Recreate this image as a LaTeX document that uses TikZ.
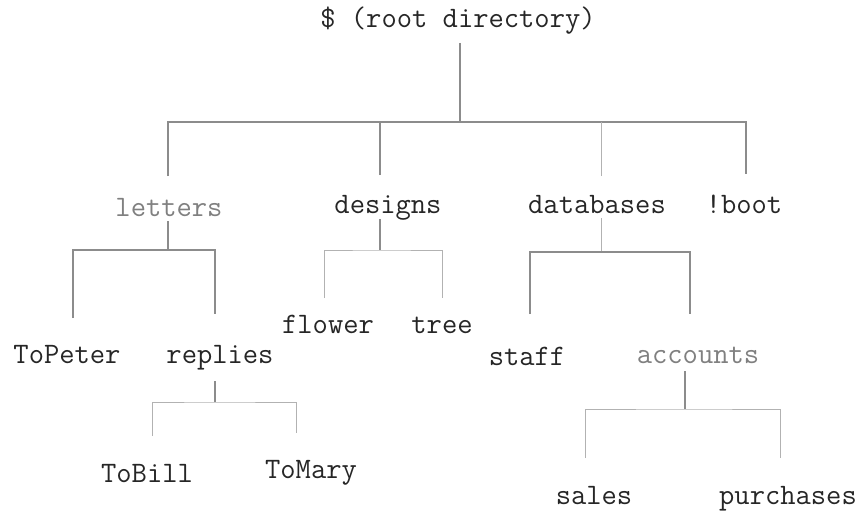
\documentclass[tikz,border=0pt]{standalone}
\begin{document}
\begin{tikzpicture}[x=1pt,y=-1pt,
  lbl/.style={font=\ttfamily\fontsize{29.7}{32}\selectfont, text=black!85, inner sep=0pt, anchor=base},
  dim/.style={text=black!50},
  conn/.style={draw=black!45, line width=1.1pt},
  faint/.style={draw=black!30, line width=1pt}]
\useasboundingbox (0,0) rectangle (867,511);

% nodes
\node[lbl] (root) at (458,28) {\$ (root directory)};
\node[lbl,dim] (letters) at (169,216) {letters};
\node[lbl] (designs) at (388,213) {designs};
\node[lbl] (databases) at (597,213) {databases};
\node[lbl] (boot) at (744,213) {!boot};
\node[lbl] (topeter) at (67,363) {ToPeter};
\node[lbl] (replies) at (220,363) {replies};
\node[lbl] (flower) at (328,333) {flower};
\node[lbl] (tree) at (442,333) {tree};
\node[lbl] (staff) at (527,365) {staff};
\node[lbl,dim] (accounts) at (698,363) {accounts};
\node[lbl] (tobill) at (147,482) {ToBill};
\node[lbl] (tomary) at (311,478) {ToMary};
\node[lbl] (sales) at (594,504) {sales};
\node[lbl] (purchases) at (788,504) {purchases};

% connector coordinates
\coordinate (r0) at (460,43);  \coordinate (rj) at (460,122);
\coordinate (r1) at (168,176); \coordinate (r2) at (380,175);
\coordinate (r3) at (601,176); \coordinate (r4) at (746,174);

\coordinate (l0) at (168,221); \coordinate (lj) at (168,250);
\coordinate (l1) at (73,318);  \coordinate (l2) at (215,314);

\coordinate (d0) at (380,219); \coordinate (dj) at (380,250);
\coordinate (d1) at (324,298); \coordinate (d2) at (442,298);

\coordinate (b0) at (601,218); \coordinate (bj) at (601,252);
\coordinate (b1) at (530,314); \coordinate (b2) at (690,314);

\coordinate (p0) at (215,381); \coordinate (pj) at (215,402);
\coordinate (p1) at (152,436); \coordinate (p2) at (296,433);

\coordinate (a0) at (685,371); \coordinate (aj) at (685,409);
\coordinate (a1) at (585,458); \coordinate (a2) at (780,458);

% root
\draw[conn] (r0) -- (rj);
\draw[conn] (r1) |- (rj) -| (r4);
\draw[conn] (r2) -- (r2 |- rj);
\draw[faint] (r3) -- (r3 |- rj);
% letters
\draw[conn] (l0) -- (lj);
\draw[conn] (l1) |- (lj) -| (l2);
% designs
\draw[conn] (d0) -- (dj);
\draw[faint] (d1) |- (dj) -| (d2);
% databases
\draw[faint] (b0) -- (bj);
\draw[conn] (b1) |- (bj) -| (b2);
% replies
\draw[conn] (p0) -- (pj);
\draw[faint] (p1) |- (pj) -| (p2);
% accounts
\draw[conn] (a0) -- (aj);
\draw[faint] (a1) |- (aj) -| (a2);
\end{tikzpicture}
\end{document}
